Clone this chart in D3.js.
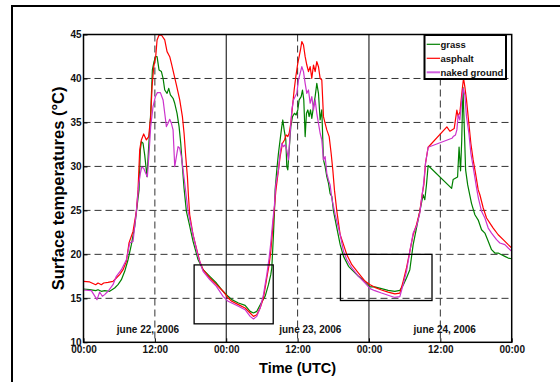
<!DOCTYPE html>
<html>
<head>
<meta charset="utf-8">
<script src="https://cdn.jsdelivr.net/npm/d3@7"></script>
<style>
  body { margin: 0; background: #fff; }
  svg { display: block; font-family: "Liberation Sans", Arial, sans-serif; font-weight: bold; }
</style>
</head>
<body>
<svg id="chart" width="560" height="382"></svg>
<script>
// series: [hour since 22 june 00:00 UTC, surface temperature °C]
var grass = [
  [0,16.06],[1.04,15.98],[2.05,15.87],[2.44,15.98],[3.0,15.8],[3.56,15.87],[4.4,15.8],[5.24,16.17],[5.8,16.55],
  [6.37,17.12],[6.93,18.07],[7.49,19.39],[8.05,21.1],[8.61,23.18],[9.17,26.4],[9.34,27.33],[9.56,31.87],[9.73,32.82],
  [10.01,32.63],[10.29,31.31],[10.68,28.84],[10.96,32.25],[11.3,36.04],[11.58,40.97],[11.86,41.91],[12.14,42.48],
  [12.37,42.48],[12.7,40.97],[13.1,40.78],[13.38,40.02],[13.66,38.69],[14.05,38.31],[14.33,38.88],[14.61,38.13],
  [15.06,37.75],[15.34,37.18],[15.73,36.04],[16.07,34.53],[16.35,32.63],[16.63,30.0],[16.91,27.5],[17.3,24.89],
  [17.75,23.56],[18.42,21.48],[19.27,19.39],[20.11,18.26],[21.23,17.5],[22.35,16.74],[23.47,15.8],[24.32,15.23],
  [24.93,14.85],[26.05,14.47],[27.17,14.2],[28.02,13.52],[28.58,13.33],[29.14,13.52],[29.87,14.47],[30.54,15.23],
  [31.1,16.55],[31.49,17.69],[31.66,18.45],[31.94,22.23],[32.11,24.89],[32.22,27.33],[32.5,29.6],[32.78,31.5],
  [33.06,33.01],[33.34,34.53],[33.51,35.28],[33.74,34.15],[34.02,33.01],[34.18,29.98],[34.35,29.6],[34.58,31.87],
  [34.86,34.53],[35.14,35.66],[35.47,36.04],[35.75,35.85],[36.03,36.42],[36.26,37.56],[36.6,37.94],[36.82,38.69],
  [37.04,37.56],[37.27,33.39],[37.49,36.04],[37.72,36.42],[37.94,35.66],[38.17,36.42],[38.39,35.47],[38.67,36.8],
  [38.95,37.94],[39.23,39.45],[39.51,38.31],[39.79,35.28],[40.07,36.42],[40.35,30.74],[40.63,29.98],[40.91,28.84],
  [41.19,28.09],[41.47,26.9],[41.75,26.6],[42.04,24.89],[42.6,22.99],[43.16,21.1],[43.72,19.77],[44.56,18.64],
  [45.4,18.07],[46.24,17.5],[47.36,16.93],[48.2,16.3],[48.98,16.3],[50.1,16.1],[51.22,15.9],[52.35,15.8],
  [53.19,15.9],[53.75,16.5],[54.31,17.31],[54.87,18.26],[55.43,21.1],[55.99,22.99],[56.55,24.89],[57.11,26.78],
  [57.39,26.21],[57.67,27.92],[57.95,30.1],[61.9,27.5],[62.15,28.5],[62.9,28.8],[63.15,32.2],[63.4,29.5],
  [63.6,33.0],[63.8,39.0],[64.0,35.0],[64.25,29.6],[64.6,27.9],[65.24,25.8],[65.81,24.5],[66.37,23.9],
  [66.93,22.8],[67.49,22.42],[68.05,21.48],[68.61,20.53],[69.17,20.15],[69.73,20.15],[70.29,19.96],[70.85,19.77],
  [71.41,19.58],[72,19.5]
];
var asphalt = [
  [0,16.93],[1.04,16.86],[2.05,16.55],[2.44,16.74],[3.0,16.55],[3.39,16.74],[4.12,16.82],[4.96,16.93],[5.52,17.31],
  [6.08,17.69],[6.65,18.26],[7.21,19.2],[7.65,21.29],[8.33,22.61],[8.89,24.89],[9.17,27.33],[9.45,31.87],[9.73,33.01],
  [10.12,33.69],[10.57,33.01],[10.96,33.39],[11.3,35.66],[11.53,39.07],[11.81,41.34],[12.14,42.48],[12.37,44.38],
  [12.7,44.94],[13.1,44.94],[13.66,44.38],[14.05,43.05],[14.5,42.48],[14.78,41.72],[15.17,40.59],[15.62,39.26],
  [16.18,37.56],[16.63,35.66],[16.91,33.77],[17.19,31.12],[17.47,28.84],[17.65,26.6],[17.86,24.5],[18.42,22.23],
  [18.98,20.72],[19.55,19.2],[20.11,18.26],[21.23,17.31],[22.35,16.55],[23.47,15.8],[24.32,15.04],[24.93,14.66],
  [26.05,14.28],[27.17,13.9],[28.02,13.33],[28.58,12.95],[29.14,13.14],[29.7,13.9],[30.26,15.04],[30.82,17.31],
  [31.21,18.83],[31.49,20.34],[31.77,22.61],[32.05,24.89],[32.33,27.16],[33.06,31.12],[33.46,32.63],[33.79,33.01],
  [34.07,33.58],[34.35,33.39],[34.58,33.77],[34.86,34.9],[35.14,36.8],[35.42,38.69],[35.7,40.21],[36.03,41.72],
  [36.26,42.48],[36.48,43.24],[36.71,44.19],[36.99,43.81],[37.27,42.48],[37.55,41.53],[37.83,40.78],[38.11,41.34],
  [38.39,40.02],[38.67,41.53],[38.95,40.78],[39.23,41.91],[39.51,41.34],[39.79,40.02],[40.07,39.83],[40.35,35.66],
  [40.63,34.9],[40.91,34.15],[41.31,33.39],[41.64,31.5],[41.92,29.6],[42.2,27.3],[42.6,24.89],[43.16,22.23],
  [43.72,21.1],[44.28,19.96],[45.12,18.83],[46.24,17.88],[47.36,16.93],[48.2,16.55],[48.98,16.25],[50.1,15.95],
  [51.22,15.7],[52.35,15.5],[53.19,15.6],[53.75,16.93],[54.31,18.45],[54.87,20.34],[55.43,22.23],[55.99,23.37],
  [56.55,24.89],[56.94,26.78],[57.23,27.92],[57.51,30.36],[57.95,32.18],[61.1,34.5],[61.6,34.0],[61.95,34.15],
  [62.33,34.3],[62.78,36.4],[63.0,35.7],[63.3,36.2],[63.67,38.69],[63.9,40.02],[64.12,39.07],[64.4,37.56],
  [64.68,35.66],[65.13,32.63],[65.52,30.74],[65.92,29.22],[66.37,27.33],[66.65,26.78],[67.21,25.27],[67.77,24.13],
  [68.33,23.56],[68.89,22.99],[69.73,22.23],[70.57,21.67],[71.41,21.1],[72,20.72]
];
var nakedGround = [
  [0,15.95],[1.32,15.87],[2.27,14.85],[2.72,15.72],[3.17,15.23],[3.56,15.42],[4.12,15.8],[4.96,16.55],[5.52,17.5],
  [6.37,18.26],[7.21,19.39],[7.77,21.29],[8.33,21.48],[8.89,24.89],[9.28,27.92],[9.56,29.22],[9.79,29.91],
  [10.12,29.79],[10.46,29.22],[10.74,28.84],[11.02,31.5],[11.3,34.53],[11.69,36.8],[12.09,37.94],[12.42,38.39],
  [12.93,38.39],[13.38,37.56],[13.66,36.04],[13.94,34.53],[14.22,34.9],[14.5,35.36],[14.78,34.9],[15.06,34.15],
  [15.34,29.98],[15.62,31.12],[15.9,32.25],[16.18,32.06],[16.46,31.12],[16.74,29.6],[17.02,28.09],[17.58,24.89],
  [18.42,22.23],[19.27,19.77],[20.11,18.07],[21.23,17.12],[22.35,16.36],[23.47,15.23],[24.32,14.66],[24.93,14.47],
  [26.05,14.09],[27.17,13.71],[28.02,12.95],[28.58,12.65],[29.14,12.95],[29.7,13.9],[30.26,15.42],[30.82,17.69],
  [31.21,19.58],[31.49,21.29],[31.77,23.37],[32.11,25.64],[32.33,27.92],[32.78,29.6],[33.06,31.5],[33.34,32.63],
  [33.62,32.25],[33.9,32.44],[34.18,31.87],[34.46,30.74],[34.75,33.77],[35.03,36.42],[35.31,37.56],[35.59,37.94],
  [35.87,38.31],[36.15,39.83],[36.43,40.59],[36.71,41.34],[36.99,40.78],[37.27,39.45],[37.55,38.31],[37.83,38.69],
  [38.11,37.18],[38.39,37.94],[38.67,36.42],[38.95,37.56],[39.23,36.04],[39.51,34.9],[39.79,33.77],[40.07,33.01],
  [40.35,30.74],[40.63,31.12],[40.91,29.22],[41.19,28.46],[41.47,27.9],[41.75,26.4],[42.32,24.51],[43.16,22.23],
  [43.72,20.34],[44.28,19.39],[45.12,18.45],[46.24,17.5],[47.36,16.74],[48.2,16.1],[48.98,15.87],[50.1,15.6],
  [51.22,15.35],[52.35,15.1],[53.19,15.2],[53.75,16.55],[54.31,18.07],[54.87,20.34],[55.43,22.42],[55.99,23.18],
  [56.55,24.7],[56.94,26.78],[57.17,27.92],[57.51,30.36],[57.95,32.18],[61.95,33.2],[62.16,33.39],[62.55,33.58],
  [62.78,34.15],[63.0,35.85],[63.28,35.28],[63.56,37.37],[63.84,38.88],[64.12,38.13],[64.4,35.66],[64.8,33.77],
  [65.13,31.5],[65.69,29.22],[66.1,27.5],[66.4,26.4],[66.93,24.89],[67.49,24.13],[68.05,22.99],[68.61,22.42],
  [69.45,21.67],[70.01,21.29],[70.85,21.1],[71.41,20.72],[72,20.34]
];

var seriesNames = ['grass', 'asphalt', 'naked ground'];
var seriesColors = ['#008000', '#ff0000', '#cc33cc'];
var xTickHours = [0, 12, 24, 36, 48, 60, 72];
var xTickLabels = ['00:00', '12:00', '00:00', '12:00', '00:00', '12:00', '00:00'];
var yTicks = [10, 15, 20, 25, 30, 35, 40, 45];
var dayLabels = ['june 22, 2006', 'june 23, 2006', 'june 24, 2006'];
var dayLabelHours = [5.6, 32.9, 55.5];
// zoom boxes: [hour start, hour end, temp low, temp high]
var boxes = [[18.6, 31.9, 12.1, 18.8], [43.2, 58.6, 14.75, 20]];

var svg = d3.select('#chart');
var plotL = 83.5, plotR = 511.7, plotT = 34.5, plotB = 342.3;

var x = d3.scaleLinear().domain([0, 72]).range([plotL, plotR]);
var y = d3.scaleLinear().domain([10, 45]).range([plotB, plotT]);

// outer figure frame (cut by the page edge)
svg.append('rect')
  .attr('x', 12).attr('y', 6).attr('width', 600).attr('height', 420)
  .attr('fill', 'none').attr('stroke', '#000').attr('stroke-width', 2);

// grid
svg.append('g').selectAll('line')
  .data(yTicks.filter(function(d) { return d > 10 && d < 45; }))
  .enter().append('line')
    .attr('x1', plotL).attr('x2', plotR)
    .attr('y1', function(d) { return y(d); }).attr('y2', function(d) { return y(d); })
    .attr('stroke', '#333').attr('stroke-width', 1).attr('stroke-dasharray', '7,4');

svg.append('g').selectAll('line')
  .data(xTickHours.filter(function(d) { return d > 0 && d < 72; }))
  .enter().append('line')
    .attr('x1', function(d) { return x(d); }).attr('x2', function(d) { return x(d); })
    .attr('y1', plotT).attr('y2', plotB)
    .attr('stroke', function(d) { return d % 24 === 0 ? '#000' : '#333'; })
    .attr('stroke-width', 1)
    .attr('stroke-dasharray', function(d) { return d % 24 === 0 ? null : '7,4'; });

// curves
var line = d3.line()
  .x(function(d) { return x(d[0]); })
  .y(function(d) { return y(d[1]); });

[grass, asphalt, nakedGround].forEach(function(s, i) {
  svg.append('path')
    .datum(s)
    .attr('d', line)
    .attr('fill', 'none')
    .attr('stroke', seriesColors[i])
    .attr('stroke-width', 1.2)
    .attr('stroke-linejoin', 'round');
});

// zoom boxes
svg.append('g').selectAll('rect')
  .data(boxes)
  .enter().append('rect')
    .attr('x', function(d) { return x(d[0]); })
    .attr('y', function(d) { return y(d[3]); })
    .attr('width', function(d) { return x(d[1]) - x(d[0]); })
    .attr('height', function(d) { return y(d[2]) - y(d[3]); })
    .attr('fill', 'none').attr('stroke', '#000').attr('stroke-width', 1.3);

// day labels
svg.append('g').selectAll('text')
  .data(dayLabels)
  .enter().append('text')
    .attr('x', function(d, i) { return x(dayLabelHours[i]); })
    .attr('y', y(11.05))
    .attr('font-size', 10)
    .attr('fill', '#111')
    .text(function(d) { return d; });

// plot box
svg.append('rect')
  .attr('x', plotL).attr('y', plotT).attr('width', plotR - plotL).attr('height', plotB - plotT)
  .attr('fill', 'none').attr('stroke', '#000').attr('stroke-width', 1.5);

// axes
var yAxis = d3.axisLeft(y).tickValues(yTicks).tickSizeInner(-4).tickSizeOuter(0).tickPadding(2);
var xAxis = d3.axisBottom(x).tickValues(xTickHours)
  .tickFormat(function(d, i) { return xTickLabels[i]; })
  .tickSizeInner(-4).tickSizeOuter(0).tickPadding(4);

var gy = svg.append('g').attr('transform', 'translate(' + plotL + ',0)').call(yAxis);
var gx = svg.append('g').attr('transform', 'translate(0,' + plotB + ')').call(xAxis);
[gx, gy].forEach(function(g) {
  g.select('.domain').remove();
  g.selectAll('text').attr('font-size', 10).attr('font-family', null).attr('fill', '#111');
  g.selectAll('line').attr('stroke', '#000');
});

// axis titles
svg.append('text')
  .attr('x', (plotL + plotR) / 2).attr('y', 373)
  .attr('text-anchor', 'middle').attr('font-size', 14.5)
  .text('Time (UTC)');

svg.append('text')
  .attr('transform', 'translate(63.5,' + (plotT + plotB) / 2 + ') rotate(-90)')
  .attr('text-anchor', 'middle').attr('font-size', 16.5)
  .text('Surface temperatures (°C)');

// legend
var lg = svg.append('g');
lg.append('rect')
  .attr('x', 424.5).attr('y', 35).attr('width', 81.5).attr('height', 44)
  .attr('fill', '#fff').attr('stroke', '#000').attr('stroke-width', 2);
var legendColors = ['#008000', '#ff0000', '#d060e0'];
seriesNames.forEach(function(name, i) {
  var ly = 44.3 + i * 14;
  lg.append('line')
    .attr('x1', 426.7).attr('x2', 440).attr('y1', ly).attr('y2', ly)
    .attr('stroke', legendColors[i]).attr('stroke-width', i === 2 ? 2 : 1.2);
  lg.append('text')
    .attr('x', 440.5).attr('y', ly).attr('dy', '0.35em')
    .attr('font-size', 9.5).attr('fill', '#111')
    .text(name);
});
</script>
</body>
</html>
